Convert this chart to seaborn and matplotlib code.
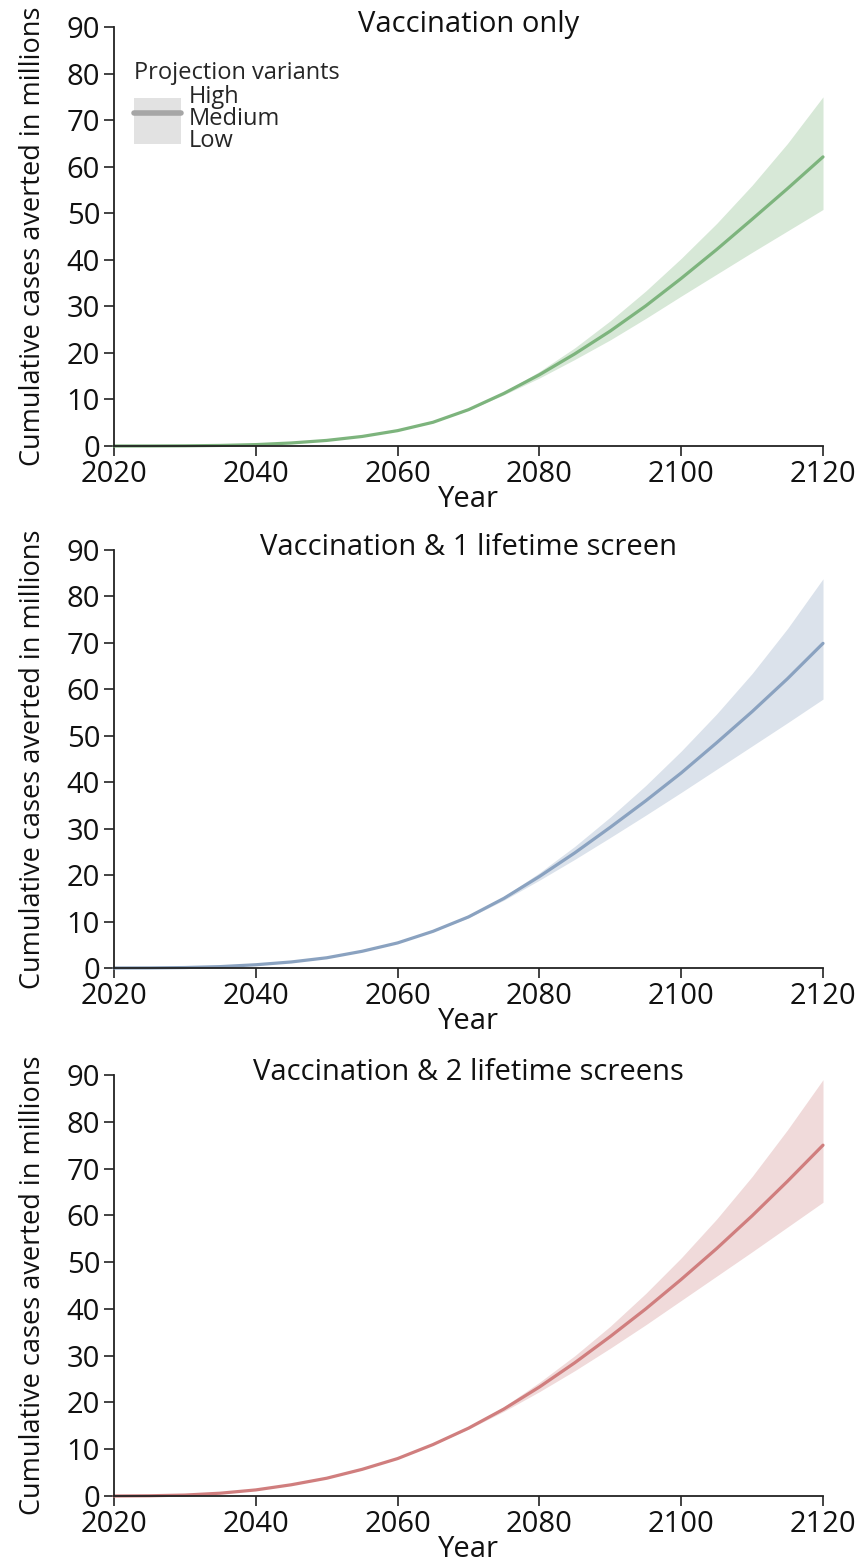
import matplotlib
matplotlib.use("Agg")
import matplotlib.pyplot as plt
from matplotlib.patches import Patch
from matplotlib.lines import Line2D
import seaborn as sns
import pandas as pd

years = [2020, 2025, 2030, 2035, 2040, 2045, 2050, 2055, 2060, 2065, 2070,
         2075, 2080, 2085, 2090, 2095, 2100, 2105, 2110, 2115, 2120]

titles = ["Vaccination only",
          "Vaccination & 1 lifetime screen",
          "Vaccination & 2 lifetime screens"]

# Cumulative cases averted (millions) under the three projection variants
vacc_medium = [0, 0.01, 0.04, 0.12, 0.3, 0.65, 1.2, 2.05, 3.3, 5.1, 7.8,
               11.3, 15.3, 19.8, 24.7, 30.1, 36.0, 42.2, 48.7, 55.3, 62.1]
vacc_high = [0, 0.01, 0.04, 0.12, 0.3, 0.65, 1.2, 2.05, 3.3, 5.1, 7.9,
             11.6, 16.0, 21.1, 26.9, 33.3, 40.3, 47.8, 56.0, 65.0, 75.0]
vacc_low = [0, 0.01, 0.04, 0.12, 0.3, 0.65, 1.2, 2.05, 3.3, 5.1, 7.7,
            11.0, 14.6, 18.6, 22.8, 27.4, 32.2, 36.9, 41.6, 46.2, 50.8]

screen1_medium = [0, 0.02, 0.1, 0.3, 0.7, 1.3, 2.2, 3.6, 5.4, 7.9, 11.0,
                  15.0, 19.7, 24.8, 30.3, 36.0, 42.0, 48.5, 55.2, 62.3, 69.9]
screen1_high = [0, 0.02, 0.1, 0.3, 0.7, 1.3, 2.2, 3.6, 5.4, 7.9, 11.2,
                15.4, 20.5, 26.2, 32.5, 39.3, 46.7, 54.7, 63.4, 73.1, 83.8]
screen1_low = [0, 0.02, 0.1, 0.3, 0.7, 1.3, 2.2, 3.6, 5.4, 7.9, 10.8,
               14.6, 18.9, 23.4, 28.1, 32.9, 37.8, 42.8, 47.8, 52.8, 57.9]

screen2_medium = [0, 0.05, 0.2, 0.6, 1.3, 2.4, 3.8, 5.7, 8.0, 11.0, 14.5,
                  18.6, 23.3, 28.5, 34.1, 40.0, 46.3, 52.9, 59.9, 67.3, 75.0]
screen2_high = [0, 0.05, 0.2, 0.6, 1.3, 2.4, 3.8, 5.7, 8.0, 11.0, 14.7,
                19.1, 24.3, 30.0, 36.3, 43.3, 50.9, 59.2, 68.3, 78.3, 89.0]
screen2_low = [0, 0.05, 0.2, 0.6, 1.3, 2.4, 3.8, 5.7, 8.0, 11.0, 14.3,
               18.1, 22.3, 26.8, 31.6, 36.6, 41.8, 47.0, 52.2, 57.5, 62.8]

x_ticks = [2020, 2040, 2060, 2080, 2100, 2120]
y_ticks = [0, 10, 20, 30, 40, 50, 60, 70, 80, 90]

line_colors = ["#7db47d", "#8aa2c0", "#d07e7e"]
band_colors = ["#d7e8d7", "#dbe2eb", "#f0dada"]

sns.set_theme(style="ticks")
plt.rcParams["font.family"] = ["Open Sans", "DejaVu Sans"]

fig = plt.figure(figsize=(8.6, 15.64), dpi=100)
H = 1564.0
W = 860.0
panels = [(27, 446), (550, 968), (1075, 1496)]
left, right = 114 / W, 823 / W

series = [(vacc_low, vacc_medium, vacc_high),
          (screen1_low, screen1_medium, screen1_high),
          (screen2_low, screen2_medium, screen2_high)]

for i, ((top_px, bot_px), (lo, med, hi)) in enumerate(zip(panels, series)):
    ax = fig.add_axes([left, 1 - bot_px / H, right - left, (bot_px - top_px) / H])
    df = pd.DataFrame({"Year": years, "Medium": med, "Low": lo, "High": hi})
    ax.fill_between(df["Year"], df["Low"], df["High"], color=band_colors[i],
                    linewidth=0, zorder=1)
    sns.lineplot(data=df, x="Year", y="Medium", ax=ax, color=line_colors[i],
                 linewidth=2.3, zorder=2, clip_on=False)
    ax.set_xlim(2020, 2120)
    ax.set_ylim(0, 90)
    ax.set_xticks(x_ticks)
    ax.set_yticks(y_ticks)
    ax.tick_params(axis="both", labelsize=21, length=7, width=1.2,
                   color="#222222", labelcolor="#111111", pad=3)
    for side in ("top", "right"):
        ax.spines[side].set_visible(False)
    for side in ("left", "bottom"):
        ax.spines[side].set_linewidth(1.3)
        ax.spines[side].set_color("#222222")
    ax.set_xlabel("Year", fontsize=21, labelpad=-3, color="#111111")
    ax.set_ylabel("Cumulative cases averted in millions", fontsize=19.5,
                  labelpad=14, color="#111111")
    ax.set_title(titles[i], fontsize=21, y=1.0, pad=-3.5, color="#111111")

    if i == 0:
        handle = (Patch(facecolor="#e2e2e2", edgecolor="none"),
                  Line2D([], [], color="#a6a6a6", linewidth=4))
        leg = ax.legend(handles=[handle], labels=["High\nMedium\nLow"],
                        title="Projection variants", loc="upper left",
                        bbox_to_anchor=(0.015, 0.942), frameon=False,
                        fontsize=17, title_fontsize=17, handlelength=2.0,
                        handleheight=2.6, handletextpad=0.3,
                        borderaxespad=0, labelspacing=0)
        for t in leg.get_texts():
            t.set_linespacing(0.9)
        leg._legend_box.align = "left"

fig.savefig("out.png", dpi=100)
